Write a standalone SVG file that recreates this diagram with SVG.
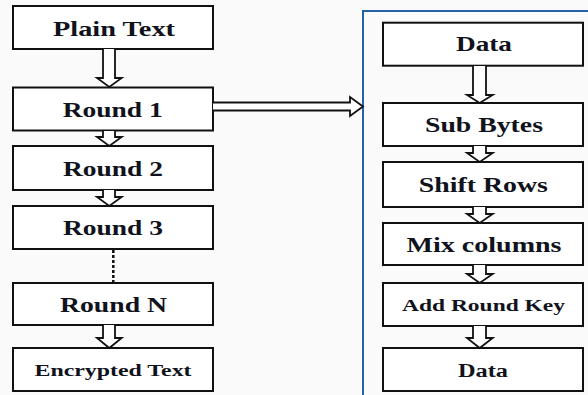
<svg xmlns="http://www.w3.org/2000/svg" width="588" height="395" viewBox="0 0 588 395">
  <style>
    .box { fill: #ffffff; stroke: #111111; stroke-width: 2; }
    .arrow { fill: #ffffff; stroke: #111111; stroke-width: 1.8; stroke-linejoin: miter; }
    .lbl { font-family: "Liberation Serif", "Times New Roman", serif; font-weight: bold; fill: #10121c; text-anchor: middle; }
    .big { font-size: 21.5px; }
    .frame { fill: none; stroke: #2463a8; stroke-width: 2; }
  </style>
  <rect width="588" height="395" fill="#fafafa"/>

  <!-- round detail frame -->
  <rect class="frame" x="363" y="11" width="240" height="400"/>

  <!-- left column: cipher rounds -->
  <g id="plain-text">
    <rect class="box" x="13" y="6" width="200" height="43"/>
    <text class="lbl big" x="114" y="36" textLength="122" lengthAdjust="spacingAndGlyphs">Plain Text</text>
  </g>
  <g id="round-1">
    <rect class="box" x="13" y="87.5" width="200" height="43"/>
    <text class="lbl big" x="112.7" y="116.7" textLength="100" lengthAdjust="spacingAndGlyphs">Round 1</text>
  </g>
  <g id="round-2">
    <rect class="box" x="13" y="146" width="200" height="44"/>
    <text class="lbl big" x="113" y="176" textLength="100" lengthAdjust="spacingAndGlyphs">Round 2</text>
  </g>
  <g id="round-3">
    <rect class="box" x="13" y="206" width="200" height="43"/>
    <text class="lbl big" x="113" y="235" textLength="100" lengthAdjust="spacingAndGlyphs">Round 3</text>
  </g>
  <g id="round-n">
    <rect class="box" x="13" y="283" width="200" height="42"/>
    <text class="lbl big" x="113.5" y="311.7" textLength="107" lengthAdjust="spacingAndGlyphs">Round N</text>
  </g>
  <g id="encrypted-text">
    <rect class="box" x="13" y="348" width="200" height="43"/>
    <text class="lbl" font-size="16.5" x="113" y="376" textLength="157" lengthAdjust="spacingAndGlyphs">Encrypted Text</text>
  </g>

  <!-- right column: steps inside one round -->
  <g id="data-in">
    <rect class="box" x="383" y="22.7" width="200" height="43"/>
    <text class="lbl big" x="484" y="50.7" textLength="56" lengthAdjust="spacingAndGlyphs">Data</text>
  </g>
  <g id="sub-bytes">
    <rect class="box" x="383" y="103" width="200" height="43"/>
    <text class="lbl big" x="484" y="132" textLength="118" lengthAdjust="spacingAndGlyphs">Sub Bytes</text>
  </g>
  <g id="shift-rows">
    <rect class="box" x="383" y="162" width="200" height="45"/>
    <text class="lbl big" x="483.3" y="191.5" textLength="129" lengthAdjust="spacingAndGlyphs">Shift Rows</text>
  </g>
  <g id="mix-columns">
    <rect class="box" x="383" y="223" width="200" height="42"/>
    <text class="lbl big" x="484" y="251.7" textLength="155" lengthAdjust="spacingAndGlyphs">Mix columns</text>
  </g>
  <g id="add-round-key">
    <rect class="box" x="383" y="283" width="200" height="43"/>
    <text class="lbl" font-size="17.5" x="483.5" y="311" textLength="163" lengthAdjust="spacingAndGlyphs">Add Round Key</text>
  </g>
  <g id="data-out">
    <rect class="box" x="383" y="348" width="200" height="43"/>
    <text class="lbl" font-size="18.5" x="483" y="376.5" textLength="50" lengthAdjust="spacingAndGlyphs">Data</text>
  </g>

  <!-- hollow block arrows and the elided-rounds dots -->
  <g id="connectors">
    <!-- left column, centre x = 109 -->
    <path class="arrow" d="M103,49 V78 H97 L109.3,87 L121.7,78 H115 V49"/>
    <path class="arrow" d="M103,131 V137 H97 L109.3,146 L121.7,137 H115 V131"/>
    <path class="arrow" d="M103,190 V197 H97 L109.3,206 L121.7,197 H115 V190"/>
    <path class="arrow" d="M103,325 V338 H97 L109.3,348 L121.7,338 H115 V325"/>
    <line x1="113.3" y1="250" x2="113.3" y2="283" stroke="#111111" stroke-width="2.5" stroke-dasharray="3,2"/>

    <!-- Round 1 expanded into the frame -->
    <path class="arrow" d="M213,102.5 H350 V97 L363,106.5 L350,116 V110.5 H213"/>

    <!-- right column, centre x = 479.7 -->
    <path class="arrow" d="M473,66 V95 H467 L479.7,103 L492.7,95 H486 V66"/>
    <path class="arrow" d="M473,146 V153 H467 L479.7,162 L492.7,153 H486 V146"/>
    <path class="arrow" d="M473,207 V214 H467 L479.7,223 L492.7,214 H486 V207"/>
    <path class="arrow" d="M473,265 V274 H467 L479.7,283 L492.7,274 H486 V265"/>
    <path class="arrow" d="M473,326 V338 H467 L479.7,348 L492.7,338 H486 V326"/>
  </g>
</svg>
